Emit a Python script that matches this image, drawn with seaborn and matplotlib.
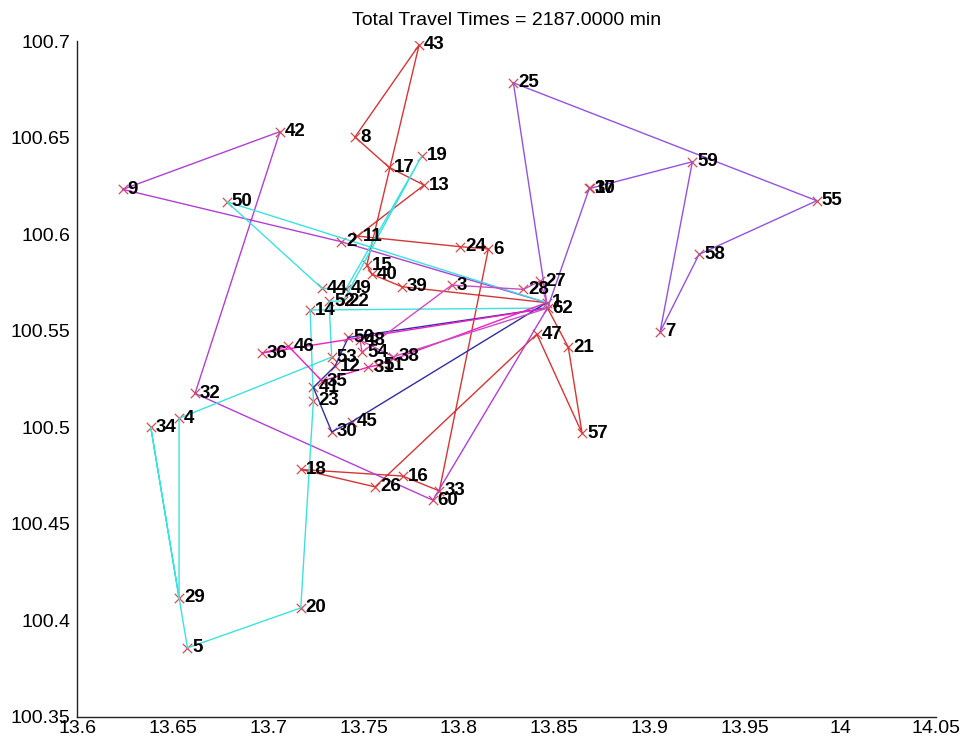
import numpy as np
import pandas as pd
import matplotlib
matplotlib.use("Agg")
import matplotlib.pyplot as plt
import seaborn as sns
from matplotlib.ticker import FuncFormatter

# ---- node data (customer id, longitude-like x, latitude-like y) ----
node_ids = [1, 62, 2, 3, 4, 5, 6, 7, 8, 9, 10, 11, 12, 13, 14, 15, 16, 17, 18, 19,
            20, 21, 22, 23, 24, 25, 26, 27, 28, 29, 30, 31, 32, 33, 34, 35, 36, 37,
            38, 39, 40, 41, 42, 43, 44, 45, 46, 47, 48, 49, 50, 51, 52, 53, 54, 55,
            56, 57, 58, 59, 60]
node_x = [13.8460, 13.8464, 13.7382, 13.7962, 13.6533, 13.6577, 13.8154, 13.9054,
          13.7455, 13.6238, 13.8687, 13.7468, 13.7351, 13.7817, 13.7220, 13.7517,
          13.7705, 13.7634, 13.7172, 13.7805, 13.7171, 13.8573, 13.7393, 13.7237,
          13.8006, 13.8285, 13.7560, 13.8425, 13.8338, 13.6533, 13.7333, 13.7524,
          13.6617, 13.7897, 13.6385, 13.7282, 13.6968, 13.8683, 13.7656, 13.7700,
          13.7543, 13.7237, 13.7062, 13.7791, 13.7282, 13.7438, 13.7106, 13.8408,
          13.7482, 13.7408, 13.6783, 13.7576, 13.7319, 13.7333, 13.7492, 13.9875,
          13.7420, 13.8645, 13.9258, 13.9223, 13.7863]
node_y = [100.5646, 100.5618, 100.5962, 100.5737, 100.5047, 100.3858, 100.5924,
          100.5495, 100.6504, 100.6233, 100.6238, 100.5991, 100.5318, 100.6255,
          100.5608, 100.5841, 100.4748, 100.6347, 100.4782, 100.6406, 100.4065,
          100.5415, 100.5654, 100.5138, 100.5936, 100.6785, 100.4692, 100.5758,
          100.5715, 100.4117, 100.4977, 100.5312, 100.5176, 100.4671, 100.5000,
          100.5240, 100.5385, 100.6238, 100.5366, 100.5729, 100.5794, 100.5207,
          100.6532, 100.6981, 100.5720, 100.5029, 100.5421, 100.5483, 100.5452,
          100.5717, 100.6169, 100.5323, 100.5654, 100.5364, 100.5390, 100.6174,
          100.5466, 100.4970, 100.5896, 100.6376, 100.4623]

# ---- vehicle routes (sequences of node ids) ----
route_red = [1, 39, 40, 15, 43, 8, 17, 13, 11, 24, 6, 33, 16, 18, 26, 47, 57, 21, 62]
route_violet = [1, 25, 55, 58, 7, 59, 10, 37, 62]
route_purple = [1, 2, 9, 42, 32, 60, 62]
route_cyan = [1, 50, 44, 49, 19, 22, 52, 53, 4, 29, 34, 5, 20, 23, 14, 62]
route_navy = [1, 45, 30, 41, 12, 56, 62]
route_magenta = [1, 51, 31, 35, 46, 36, 62]
route_orchid = [1, 27, 28, 3, 54, 48, 38, 62]

routes = {
    "red": route_red, "violet": route_violet, "purple": route_purple,
    "cyan": route_cyan, "navy": route_navy,
    "magenta": route_magenta, "orchid": route_orchid,
}
palette = {
    "red": "#d43636", "violet": "#9452e0", "purple": "#b040d4",
    "cyan": "#3ee0e0", "navy": "#2e2ea8",
    "magenta": "#f01ec4", "orchid": "#cc4cc0",
}
title_text = "Total Travel Times = 2187.0000 min"

# ---- build tables ----
nodes = pd.DataFrame({"id": node_ids, "x": node_x, "y": node_y}).set_index("id")
rows = []
for name, seq in routes.items():
    for k, nid in enumerate(seq):
        rows.append({"route": name, "order": k,
                     "x": nodes.loc[nid, "x"], "y": nodes.loc[nid, "y"]})
edges = pd.DataFrame(rows)

sns.set_theme(style="white")
plt.rcParams["font.family"] = ["Liberation Sans", "DejaVu Sans"]

fig = plt.figure(figsize=(9.63, 7.45), dpi=100)
ax = fig.add_axes([0.0803, 0.0376, 0.8917, 0.907])

sns.scatterplot(x=node_x, y=node_y, marker="x", color="#d84c4c", s=45,
                linewidth=0.9, ax=ax, zorder=2, legend=False)
sns.lineplot(data=edges, x="x", y="y", hue="route", palette=palette,
             sort=False, estimator=None, linewidth=1.0, legend=False, ax=ax,
             zorder=3)

for nid, xv, yv in zip(node_ids, node_x, node_y):
    ax.annotate(str(nid), (xv, yv), xytext=(5, 0), textcoords="offset pixels",
                ha="left", va="center", fontsize=13.5, fontweight="bold",
                color="black", zorder=5)

ax.set_xlim(13.6, 14.05)
ax.set_ylim(100.35, 100.7)
ax.set_xticks(np.arange(13.6, 14.0501, 0.05))
ax.set_yticks(np.arange(100.35, 100.7001, 0.05))
fmt = FuncFormatter(lambda v, _: f"{round(v, 2):g}")
ax.xaxis.set_major_formatter(fmt)
ax.yaxis.set_major_formatter(fmt)
ax.set_xlabel("")
ax.set_ylabel("")
for s in ["top", "right"]:
    ax.spines[s].set_visible(False)
for s in ["left", "bottom"]:
    ax.spines[s].set_color("#222222")
    ax.spines[s].set_linewidth(1.0)
ax.tick_params(axis="both", direction="in", length=8, width=1,
               color="#222222", labelsize=14, labelcolor="black")
ax.tick_params(axis="x", pad=2)
ax.tick_params(axis="y", pad=5)
ax.set_title(title_text, fontsize=14, pad=12, color="black")

fig.savefig("out.png", dpi=100)
